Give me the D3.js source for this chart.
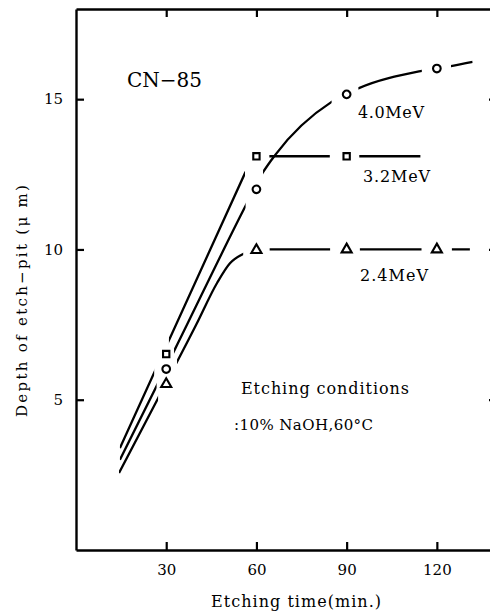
<!DOCTYPE html>
<html>
<head>
<meta charset="utf-8">
<script src="https://cdn.jsdelivr.net/npm/d3@7"></script>
<style>
  body { margin: 0; background: #fff; }
  svg { display: block; font-family: 'DejaVu Serif', serif; }
</style>
</head>
<body>
<svg id="canvas" width="490" height="614"></svg>
<script>
var xTicks = [30, 60, 90, 120];
var yTicks = [5, 10, 15];

// measured points: etching time (min), depth (um)
var circlePts = [[30, 6.02], [60, 12.0], [90, 15.16], [120, 16.02]];
var squarePts = [[30, 6.52], [60, 13.1], [90, 13.1]];
var trianglePts = [[30, 5.52], [60, 9.98], [90, 10.0], [120, 10.0]];

// hand drawn curves through them
var circleCurve = [[14.6, 3.0], [33, 6.7], [56.4, 11.45], [62.2, 12.57], [66.2, 13.14], [85, 14.91], [93.9, 15.36], [115, 15.94], [124.7, 16.1], [131.9, 16.24]];
var squareCurve = [[14.6, 3.39], [56.2, 12.54], [59.2, 13.1], [114.6, 13.1]];
var triangleCurve = [[14.3, 2.56], [27.3, 5.05], [40, 7.5], [47, 8.9], [51.2, 9.54], [55.6, 9.85], [60, 10.0], [131, 10.0]];

// pieces of each curve that are inked (gaps round the markers)
var circleShown = [[14.6, 26.8], [32.6, 56.4], [62.2, 85.0], [93.9, 115.0], [124.7, 131.9]];
var squareShown = [[14.6, 26.0], [30.9, 56.2], [64.3, 84.4], [94.2, 114.6]];
var triangleShown = [[14.3, 27.3], [33.6, 55.6], [64.4, 84.5], [94.4, 114.9], [125.0, 131.0]];

var series = [
  {id: 'circle', pts: circlePts, curve: circleCurve, shown: circleShown, symbol: d3.symbolCircle, size: 46, smooth: d3.curveMonotoneX},
  {id: 'square', pts: squarePts, curve: squareCurve, shown: squareShown, symbol: d3.symbolSquare, size: 40, smooth: d3.curveLinear},
  {id: 'triangle', pts: trianglePts, curve: triangleCurve, shown: triangleShown, symbol: d3.symbolTriangle, size: 44, smooth: d3.curveMonotoneX},
];

var svg = d3.select('#canvas');
var x = d3.scaleLinear().domain([0, 140]).range([76, 497]);
var y = d3.scaleLinear().domain([0, 18]).range([550, 9]);

var defs = svg.append('defs');
var chart = svg.append('g');

series.forEach(function(s) {
  var clip = defs.append('clipPath').attr('id', 'clip-' + s.id);
  clip.selectAll('rect')
    .data(s.shown)
    .enter()
    .append('rect')
    .attr('x', d => x(d[0]))
    .attr('width', d => x(d[1]) - x(d[0]))
    .attr('y', 0)
    .attr('height', 614);

  var line = d3.line()
    .x(d => x(d[0]))
    .y(d => y(d[1]))
    .curve(s.smooth);

  chart.append('path')
    .attr('d', line(s.curve))
    .attr('clip-path', 'url(#clip-' + s.id + ')')
    .style('fill', 'none')
    .style('stroke', '#000')
    .style('stroke-width', 2.3);
});

series.forEach(function(s) {
  chart.selectAll('.mark-' + s.id)
    .data(s.pts)
    .enter()
    .append('path')
    .attr('class', 'mark-' + s.id)
    .attr('transform', d => 'translate(' + x(d[0]) + ',' + y(d[1]) + ')')
    .attr('d', d3.symbol().type(s.symbol).size(s.size))
    .style('fill', '#fff')
    .style('stroke', '#000')
    .style('stroke-width', 2.1);
});

// frame with inward ticks
var axes = svg.append('g');
axes.append('g')
  .attr('transform', 'translate(0,' + y(0) + ')')
  .call(d3.axisBottom(x).tickValues(xTicks).tickSizeInner(-8).tickSizeOuter(0).tickPadding(14));
axes.append('g')
  .attr('transform', 'translate(0,' + y(18) + ')')
  .call(d3.axisTop(x).tickValues(xTicks).tickSizeInner(-8).tickSizeOuter(0).tickFormat(''));
axes.append('g')
  .attr('transform', 'translate(' + x(0) + ',0)')
  .call(d3.axisLeft(y).tickValues(yTicks).tickSizeInner(-8).tickSizeOuter(0).tickPadding(13));
axes.append('g')
  .attr('transform', 'translate(' + x(140) + ',0)')
  .call(d3.axisRight(y).tickValues(yTicks).tickSizeInner(-8).tickSizeOuter(0).tickFormat(''));

axes.selectAll('path.domain').style('stroke', '#000').style('stroke-width', 2.4);
axes.selectAll('.tick line').style('stroke', '#000').style('stroke-width', 2.2);
axes.selectAll('.tick text')
  .style('font-family', "'DejaVu Serif', serif")
  .style('font-size', '15px')
  .style('fill', '#000');

function label(txt, px, py, size, len) {
  var t = svg.append('text')
    .attr('x', px)
    .attr('y', py)
    .style('font-size', size + 'px')
    .style('fill', '#000')
    .text(txt);
  if (len) t.attr('textLength', len).attr('lengthAdjust', 'spacing');
  return t;
}

label('CN\u221285', 127, 87, 20, 75);
label('4.0MeV', 358, 118, 16, 66);
label('3.2MeV', 363, 182, 16, 67);
label('2.4MeV', 360, 281, 16, 68);
label('Etching conditions', 241, 394, 16, 168);
label(':10% NaOH,60\u00b0C', 234, 430, 15, 139);
label('Etching time(min.)', 211, 607, 16, 170);

svg.append('text')
  .attr('transform', 'translate(27,417) rotate(-90)')
  .attr('textLength', 232)
  .attr('lengthAdjust', 'spacing')
  .style('font-size', '15px')
  .style('fill', '#000')
  .text('Depth of etch\u2212pit (\u03bc m)');
</script>
</body>
</html>
